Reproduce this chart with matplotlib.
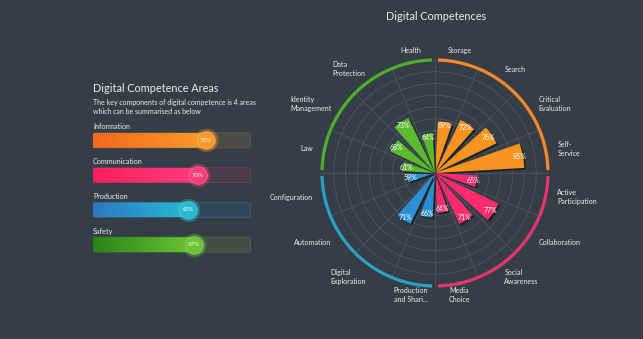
import numpy as np
import matplotlib
matplotlib.use("Agg")
import matplotlib.pyplot as plt
import matplotlib.patheffects as pe
from matplotlib.colors import LinearSegmentedColormap
from matplotlib.patches import FancyBboxPatch

# ---- data -------------------------------------------------------------
areas = ["Information", "Communication", "Production", "Safety"]
area_values = [75, 70, 63, 67]

competences = ["Storage", "Search", "Critical\nEvaluation", "Self-\nService",
               "Active\nParticipation", "Collaboration", "Social\nAwareness", "Media\nChoice",
               "Production\nand Shari...", "Digital\nExploration", "Automation", "Configuration",
               "Law", "Identity\nManagement", "Data\nProtection", "Health"]
competence_values = [69, 72, 76, 85,
                     65, 77, 71, 64,
                     66, 71, None, 59,
                     61, 68, 73, 64]

# ---- style ------------------------------------------------------------
BG = "#353e46"
TXT = "#e8ecef"
FONT = ["Lato", "DejaVu Sans"]
area_colors = ["#f7931e", "#ff2b6e", "#2a8fd6", "#5cb82c"]
grad_start = ["#f26a1c", "#ff1f5f", "#2f78c4", "#2a8418"]
grad_end = ["#fb9a2a", "#ff3c7c", "#27b8d2", "#6cc431"]
track_colors = ["#4a4c47", "#4b3c48", "#30495a", "#434d45"]
track_edges = ["#6a5a44", "#7a3a58", "#2f6474", "#4f6a46"]
ring_colors = ["#f5892a", "#ea3470", "#2aa2c8", "#4fae2a"]

plt.rcParams["font.family"] = FONT

fig = plt.figure(figsize=(6.43, 3.39), dpi=100, facecolor=BG)

# ---- left panel: progress bars -----------------------------------------
fig.text(93 / 643, 1 - 88 / 339, "Digital Competence Areas", color=TXT,
         fontsize=7.8, va="center", ha="left")
fig.text(93 / 643, 1 - 102 / 339, "The key components of digital competence is 4 areas",
         color=TXT, fontsize=5, va="center", ha="left")
fig.text(93 / 643, 1 - 112 / 339, "which can be summarised as below",
         color=TXT, fontsize=5, va="center", ha="left")

axl = fig.add_axes([93 / 643, 1 - 262 / 339, 158 / 643, 139 / 339])
axl.set_facecolor("none")
axl.set_xlim(0, 105.3)
axl.set_ylim(3.5, -0.5)
axl.axis("off")

bar_h = 0.43
for i, (name, v) in enumerate(zip(areas, area_values)):
    track = FancyBboxPatch((0.4, i - bar_h / 2), 104.5, bar_h,
                           boxstyle="round,pad=0,rounding_size=0.8",
                           fc=track_colors[i], ec=track_edges[i], lw=0.6,
                           mutation_aspect=0.05)
    axl.add_patch(track)
    fill = FancyBboxPatch((0, i - bar_h / 2), v, bar_h,
                          boxstyle="round,pad=0,rounding_size=0.8",
                          fc="none", ec="none", mutation_aspect=0.05)
    axl.add_patch(fill)
    cmap = LinearSegmentedColormap.from_list("g%d" % i, [grad_start[i], grad_end[i]])
    im = axl.imshow(np.linspace(0, 1, 64).reshape(1, -1), cmap=cmap, aspect="auto",
                    extent=(0, v, i + bar_h / 2, i - bar_h / 2), zorder=2)
    im.set_clip_path(fill)
    axl.text(0, i - 0.39, name, color=TXT, fontsize=5.2, va="center", ha="left")
    axl.scatter([v], [i], s=290, color=grad_end[i], alpha=0.35, zorder=3, lw=0)
    axl.scatter([v], [i], s=170, color=grad_end[i], zorder=4, lw=0.8,
                edgecolor="#ffffff30")
    axl.text(v, i, "%d%%" % v, color="white", fontsize=4.4, ha="center",
             va="center", zorder=5)

# ---- title of the polar chart ------------------------------------------
fig.text(436 / 643, 1 - 17 / 339, "Digital Competences", color=TXT,
         fontsize=7.8, ha="center", va="center")

# ---- polar chart -----------------------------------------------------------
r0, r1 = 47, 95
ax = fig.add_axes([322 / 643, 53 / 339, 226 / 643, 226 / 339], projection="polar")
ax.set_facecolor("none")
ax.set_theta_zero_location("N")
ax.set_theta_direction(-1)
ax.set_ylim(r0, r1)

n = len(competences)
step = 360 / n
centers = np.radians(np.arange(n) * step + step / 2)
ax.set_xticks(np.radians(np.arange(n) * step))
ax.set_xticklabels([])
ax.set_yticks(np.arange(50, 95, 5))
ax.set_yticklabels([])
ax.grid(color="#4d575f", lw=0.6)
ax.spines["polar"].set_visible(False)

shadow = [pe.SimplePatchShadow(offset=(1.2, -1.2), shadow_rgbFace="#15191c", alpha=0.8),
          pe.Normal()]
for k, (theta, v) in enumerate(zip(centers, competence_values)):
    col = area_colors[k // 4]
    if v is None:
        continue
    b = ax.bar(theta, v - r0, bottom=r0, width=np.radians(16), color=col,
               lw=0, zorder=3)
    b[0].set_path_effects(shadow)
    ax.text(theta, v - 1.5, "%d%%" % v, color="white", fontsize=5,
            ha="center", va="center", zorder=5)

# outer coloured ring, one arc per area
for g in range(4):
    th = np.radians(np.linspace(g * 90 + 1.5, g * 90 + 88.5, 100))
    ax.plot(th, np.full_like(th, r1), color=ring_colors[g], lw=2.3,
            clip_on=False, solid_capstyle="butt", zorder=4)

# category labels around the ring
for theta, name in zip(centers, competences):
    s = np.sin(theta)
    ha = "left" if s > 0.3 else ("right" if s < -0.3 else "center")
    ma = "center" if ha == "center" else "left"
    ax.text(theta, 100, name, color=TXT, fontsize=5.1, ha=ha, va="center",
            multialignment=ma, linespacing=1.3)

fig.savefig("out.png", dpi=100, facecolor=BG)
